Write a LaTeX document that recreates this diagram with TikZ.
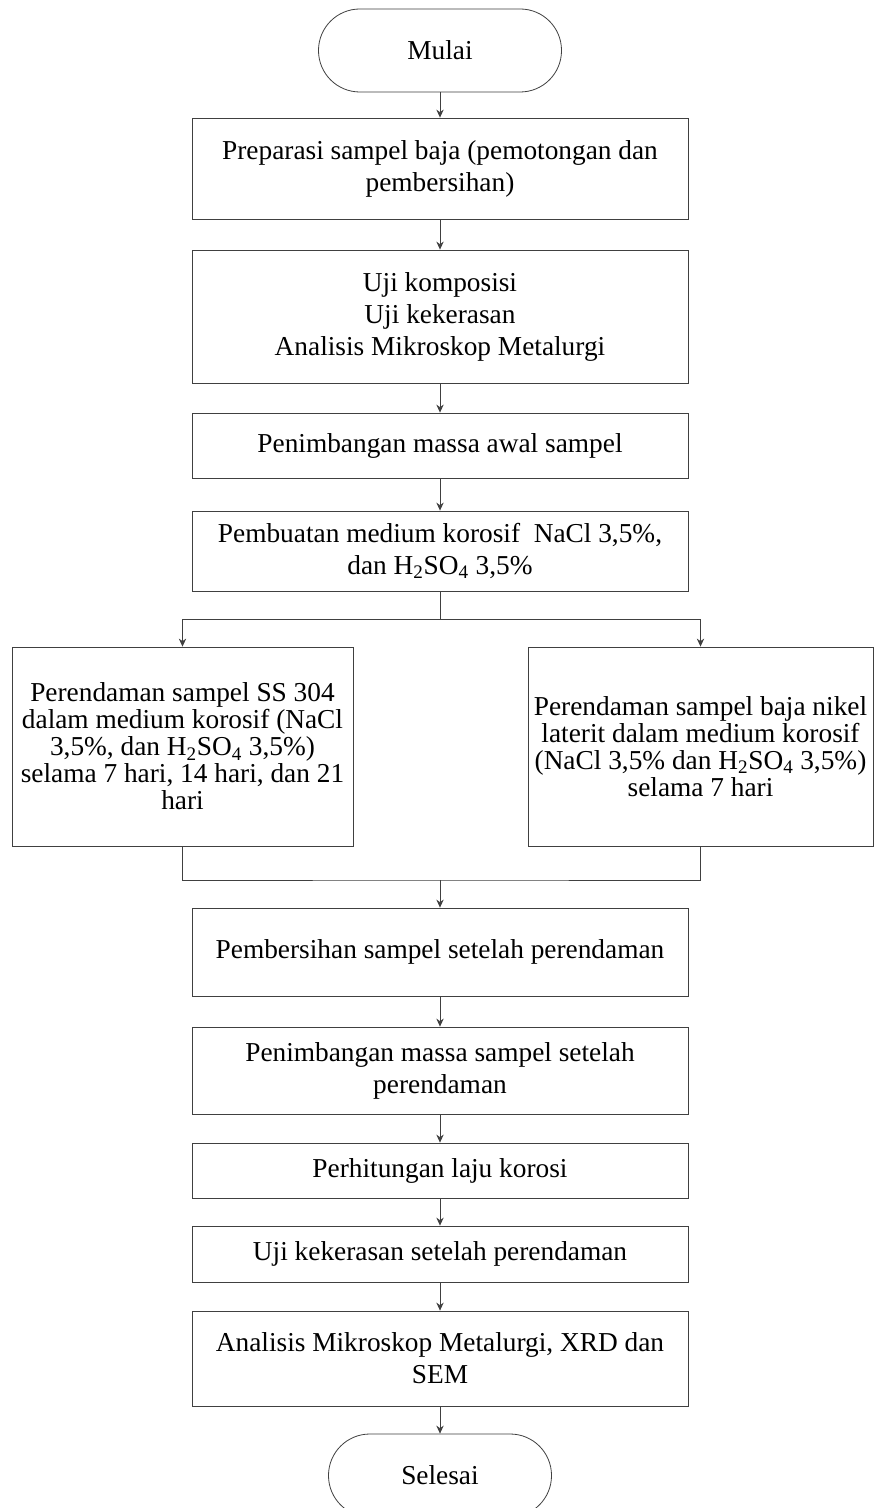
\documentclass[tikz,border=0pt]{standalone}
\usepackage{fontspec}
\setmainfont{Liberation Serif}
\usepackage{tikz}
\usetikzlibrary{arrows.meta}
\tikzstyle{garis} = [draw=black!75, line width=0.6pt]
\tikzstyle{arrow} = [garis, -{Stealth[length=6pt,width=5.5pt]}]
\tikzstyle{proses} = [rectangle, draw=black!75, line width=0.6pt, inner sep=0pt, minimum width=372pt, align=center, font=\fontsize{20.5pt}{24pt}\selectfont]
\tikzstyle{cabang} = [rectangle, draw=black!75, line width=0.6pt, inner sep=0pt, minimum height=149.25pt, align=center, font=\fontsize{20.5pt}{20.25pt}\selectfont]
\tikzstyle{terminal} = [rectangle, rounded corners=31pt, draw=black!75, line width=0.6pt, inner sep=0pt, minimum height=62.25pt, font=\fontsize{20.5pt}{24pt}\selectfont]

\begin{document}
\begin{tikzpicture}[x=0.75pt,y=0.75pt,yscale=-1,xscale=1]
%set diagram area 874 x 1508
\useasboundingbox [fill=white] (0,0) rectangle (874,1508);

%Terminal: Mulai
\node [terminal, minimum width=182.25pt] (mulai) at (440,50.5) {Mulai};
%Proses
\node [proses, minimum height=75.75pt] (prep) at (440,168.5) {Preparasi sampel baja (pemotongan dan\\pembersihan)};
\node [proses, minimum height=99.75pt] (uji) at (440,316.5) {Uji komposisi\\Uji kekerasan\\Analisis Mikroskop Metalurgi};
\node [proses, minimum height=48.75pt] (timbang) at (440,445.5) {Penimbangan massa awal sampel};
\node [proses, minimum height=60pt] (medium) at (440,551) {Pembuatan medium korosif\ \ NaCl 3,5\%,\\dan H\textsubscript{2}SO\textsubscript{4} 3,5\%};
%Cabang perendaman
\node [cabang, minimum width=255.75pt] (rendamss) at (182.5,746.5) {Perendaman sampel SS 304\\dalam medium korosif (NaCl\\3,5\%, dan H\textsubscript{2}SO\textsubscript{4} 3,5\%)\\selama 7 hari, 14 hari, dan 21\\hari};
\node [cabang, minimum width=258.75pt] (rendamni) at (700.5,746.5) {Perendaman sampel baja nikel\\laterit dalam medium korosif\\(NaCl 3,5\% dan H\textsubscript{2}SO\textsubscript{4} 3,5\%)\\selama 7 hari};
\node [proses, minimum height=66pt] (bersih) at (440,952) {Pembersihan sampel setelah perendaman};
\node [proses, minimum height=65.25pt] (timbangakhir) at (440,1070.5) {Penimbangan massa sampel setelah\\perendaman};
\node [proses, minimum height=41.25pt] (laju) at (440,1170.5) {Perhitungan laju korosi};
\node [proses, minimum height=42pt] (keras) at (440,1254) {Uji kekerasan setelah perendaman};
\node [proses, minimum height=71.25pt] (analisis) at (440,1358.5) {Analisis Mikroskop Metalurgi, XRD dan\\SEM};
%Terminal: Selesai
\node [terminal, minimum width=167.25pt] (selesai) at (440,1475.5) {Selesai};

%Titik cabang dan gabung
\coordinate (pisah) at (440,619);
\coordinate (gabung) at (440,880);

%Arrows
\draw [arrow] (mulai) -- (prep);
\draw [arrow] (prep) -- (uji);
\draw [arrow] (uji) -- (timbang);
\draw [arrow] (timbang) -- (medium);
\draw [garis] (medium) -- (pisah);
\draw [arrow] (pisah) -| (rendamss);
\draw [arrow] (pisah) -| (rendamni);
\draw [garis] (rendamss) |- (gabung) -| (rendamni);
\draw [arrow] (gabung) -- (bersih);
\draw [arrow] (bersih) -- (timbangakhir);
\draw [arrow] (timbangakhir) -- (laju);
\draw [arrow] (laju) -- (keras);
\draw [arrow] (keras) -- (analisis);
\draw [arrow] (analisis) -- (selesai);

\end{tikzpicture}
\end{document}
